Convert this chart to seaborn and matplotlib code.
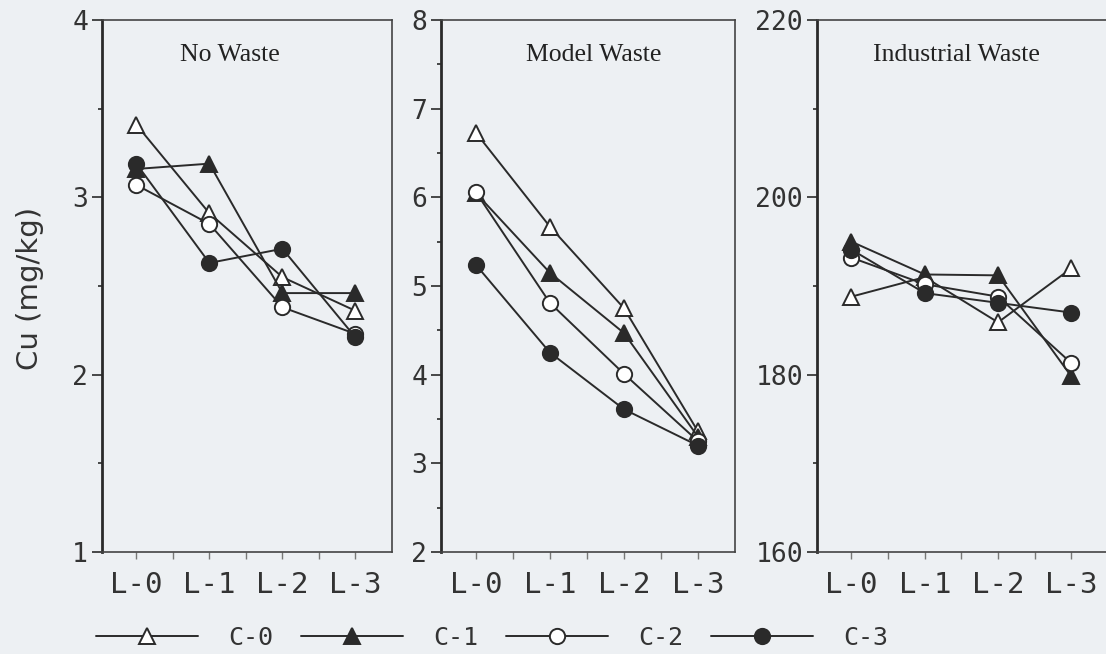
import matplotlib
matplotlib.use("Agg")
import numpy as np
import pandas as pd
import matplotlib.pyplot as plt
import seaborn as sns
from matplotlib.ticker import MultipleLocator, FixedLocator

# ---------------- data ----------------
levels = ["L-0", "L-1", "L-2", "L-3"]
series = ["C-0", "C-1", "C-2", "C-3"]
panel_titles = ["No Waste", "Model Waste", "Industrial Waste"]

no_waste = {
    "C-0": [3.41, 2.91, 2.55, 2.36],
    "C-1": [3.16, 3.19, 2.46, 2.46],
    "C-2": [3.07, 2.85, 2.38, 2.23],
    "C-3": [3.19, 2.63, 2.71, 2.21],
}
model_waste = {
    "C-0": [6.73, 5.67, 4.75, 3.36],
    "C-1": [6.05, 5.15, 4.47, 3.30],
    "C-2": [6.06, 4.81, 4.01, 3.25],
    "C-3": [5.24, 4.25, 3.61, 3.20],
}
industrial_waste = {
    "C-0": [188.8, 191.0, 185.9, 192.0],
    "C-1": [195.0, 191.3, 191.2, 179.8],
    "C-2": [193.2, 190.2, 188.8, 181.3],
    "C-3": [194.1, 189.2, 188.1, 187.0],
}
y_limits = [(1, 4), (2, 8), (160, 220)]
y_major = [1, 1, 20]
y_minor = [0.5, 0.5, 10]
y_label = "Cu (mg/kg)"

rows = []
for title, d in zip(panel_titles, [no_waste, model_waste, industrial_waste]):
    for s in series:
        for i, lv in enumerate(levels):
            rows.append({"panel": title, "level": lv, "pos": i, "series": s, "value": d[s][i]})
df = pd.DataFrame(rows)

# ---------------- style ----------------
sns.set_theme(style="ticks")
bg = "#edf0f3"
ink = "#2a2a2a"
plt.rcParams["font.family"] = ["DejaVu Sans"]

W, H = 1106, 654
fig = plt.figure(figsize=(W / 100, H / 100), dpi=100, facecolor=bg)

boxes = [(102, 392), (441, 735), (817, 1108)]
top_px, bot_px = 20, 552
title_x = [0.44, 0.52, 0.48]

marker_style = {
    "C-0": dict(marker="^", mfc="white", mec=ink, ms=12),
    "C-1": dict(marker="^", mfc=ink, mec=ink, ms=12),
    "C-2": dict(marker="o", mfc="white", mec=ink, ms=11),
    "C-3": dict(marker="o", mfc=ink, mec=ink, ms=11),
}

axes = []
legend_handles = []
for k, title in enumerate(panel_titles):
    l, r = boxes[k]
    ax = fig.add_axes([l / W, 1 - bot_px / H, (r - l) / W, (bot_px - top_px) / H])
    ax.set_facecolor(bg)
    sub = df[df["panel"] == title]
    for s in series:
        ss = sub[sub["series"] == s]
        sns.lineplot(data=ss, x="pos", y="value", ax=ax, color=ink, lw=1.4,
                     mew=1.4, legend=False, errorbar=None, **marker_style[s])
        if k == 0:
            legend_handles.append(ax.lines[-1])
    ax.set_xlim(-0.47, 3.5)
    ax.set_ylim(*y_limits[k])
    ax.xaxis.set_major_locator(FixedLocator(range(4)))
    ax.xaxis.set_minor_locator(FixedLocator([0.5, 1.5, 2.5]))
    ax.set_xticklabels(levels, family="DejaVu Sans Mono", fontsize=21, color="#333333")
    ax.yaxis.set_major_locator(MultipleLocator(y_major[k]))
    ax.yaxis.set_minor_locator(MultipleLocator(y_minor[k]))
    for lab in ax.get_yticklabels():
        lab.set_family("DejaVu Sans Mono")
        lab.set_fontsize(19)
        lab.set_color("#333333")
    ax.tick_params(axis="x", which="both", direction="out", length=5, width=1,
                   color="#777777", pad=9)
    ax.tick_params(axis="y", which="major", direction="out", length=7, width=1.2,
                   color=ink, pad=3)
    ax.tick_params(axis="y", which="minor", direction="out", length=3, width=1.2, color=ink)
    for side in ["top", "right", "bottom"]:
        ax.spines[side].set_visible(True)
        ax.spines[side].set_color("#444444")
        ax.spines[side].set_linewidth(1.2)
    ax.spines["left"].set_color(ink)
    ax.spines["left"].set_linewidth(2.0)
    ax.set_xlabel("")
    ax.set_ylabel("")
    ax.text(title_x[k], 0.935, title, transform=ax.transAxes, ha="center", va="center",
            family="Liberation Serif", fontsize=18.5, color="#222222")
    axes.append(ax)

fig.text(30 / W, 1 - 288 / H, y_label, rotation=90, ha="center", va="center",
         fontsize=21, color="#333333", family="DejaVu Sans")

leg = fig.legend(legend_handles, series, loc="center", ncol=4,
                 bbox_to_anchor=(492 / W, 1 - 638 / H), frameon=False,
                 prop={"family": "DejaVu Sans Mono", "size": 18},
                 handlelength=4.1, handletextpad=1.2, columnspacing=1.1)
for t in leg.get_texts():
    t.set_color("#333333")

fig.savefig("out.png", dpi=100, facecolor=bg)
